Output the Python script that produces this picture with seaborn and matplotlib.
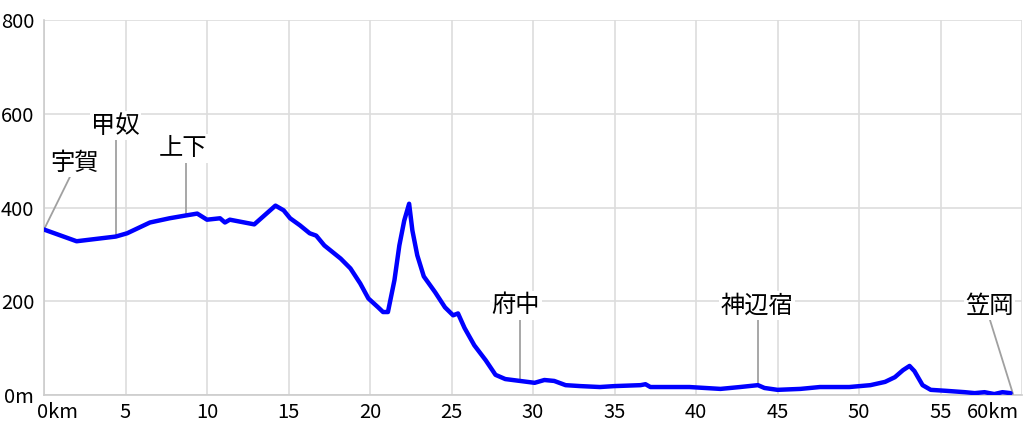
import matplotlib
matplotlib.use("Agg")
import matplotlib.pyplot as plt
import matplotlib.transforms as mtransforms
import pandas as pd
import seaborn as sns

# elevation profile (km, m)
dist_km = [0.0, 2.0, 4.4, 5.1, 6.5, 7.7, 8.7, 9.4, 10.0, 10.8, 11.1, 11.4,
           12.9, 14.2, 14.7, 15.1, 15.7, 16.3, 16.7, 17.2, 18.2, 18.8, 19.4,
           19.9, 20.5, 20.8, 21.1, 21.5, 21.8, 22.1, 22.4, 22.6, 22.9, 23.3,
           24.0, 24.6, 25.1, 25.4, 25.8, 26.4, 27.1, 27.7, 28.3, 29.2, 30.1,
           30.7, 31.3, 32.0, 32.9, 34.1, 35.0, 36.6, 36.9, 37.2, 39.6, 41.5,
           42.7, 43.8, 44.2, 45.0, 46.4, 47.6, 49.4, 50.7, 51.6, 52.2, 52.7,
           53.1, 53.4, 53.9, 54.4, 55.3, 56.5, 57.1, 57.7, 58.3, 58.8, 59.3]
elev_m = [353, 328, 338, 345, 368, 377, 383, 387, 374, 377, 368, 374,
          364, 404, 394, 377, 362, 345, 340, 319, 291, 270, 238,
          206, 187, 177, 177, 245, 319, 372, 408, 351, 298, 253,
          219, 187, 170, 174, 143, 106, 74, 43, 34, 30, 26,
          32, 30, 21, 19, 17, 19, 21, 23, 17, 17, 13,
          17, 21, 15, 11, 13, 17, 17, 21, 28, 38, 53,
          62, 51, 21, 11, 9, 6, 4, 6, 2, 6, 4]

# place names along the route
place_names = ["宇賀", "甲奴", "上下", "府中", "神辺宿", "笠岡"]
place_km = [0.0, 4.4, 8.7, 29.2, 43.8, 59.45]
place_elev = [353, 338, 383, 30, 21, 2]
label_km = [1.85, 4.4, 8.5, 28.95, 43.75, 58.0]
label_y = [496, 574, 526, 191, 191, 191]
leader_top_km = [1.6, 4.4, 8.7, 29.2, 43.8, 58.0]
leader_top_y = [466, 547, 500, 164, 164, 164]

x_ticks = [0, 5, 10, 15, 20, 25, 30, 35, 40, 45, 50, 55, 60]
x_tick_labels = ["0km", "5", "10", "15", "20", "25", "30", "35", "40",
                 "45", "50", "55", "60km"]
y_ticks = [0, 200, 400, 600, 800]
y_tick_labels = ["0m", "200", "400", "600", "800"]

sns.set_theme(style="whitegrid")
plt.rcParams["font.family"] = ["Noto Sans CJK JP", "DejaVu Sans"]

profile = pd.DataFrame({"km": dist_km, "elev": elev_m})

fig = plt.figure(figsize=(10.24, 4.30), dpi=100)
ax = fig.add_axes([44 / 1024, 1 - 395 / 430, 978 / 1024, 375 / 430])

sns.lineplot(data=profile, x="km", y="elev", ax=ax, color="#0000ff",
             linewidth=3.2, zorder=4)

# leader lines and labels
for name, px, py, lx, ly, tx, ty in zip(place_names, place_km, place_elev,
                                        label_km, label_y,
                                        leader_top_km, leader_top_y):
    ax.plot([px, tx], [py, ty], color="#a0a0a0", linewidth=1.3, zorder=3)
    ax.text(lx, ly, name, ha="center", va="center", fontsize=17.5,
            color="#000000", zorder=5,
            bbox=dict(facecolor="white", edgecolor="none", pad=1.0))

ax.set_xlim(0, 60)
ax.set_ylim(0, 800)
ax.set_xticks(x_ticks)
ax.set_xticklabels(x_tick_labels)
ax.set_yticks(y_ticks)
ax.set_yticklabels(y_tick_labels)
ax.set_xlabel("")
ax.set_ylabel("")

ax.grid(True, color="#dddddd", linewidth=1.2)
ax.tick_params(axis="both", length=0, labelsize=14.5, colors="#000000")
ax.tick_params(axis="x", pad=5)
ax.tick_params(axis="y", pad=7)

xlabels = ax.get_xticklabels()
xlabels[0].set_horizontalalignment("left")
xlabels[0].set_transform(xlabels[0].get_transform() +
                         mtransforms.ScaledTranslation(-7 / 100, 0,
                                                       fig.dpi_scale_trans))
xlabels[-1].set_horizontalalignment("right")
xlabels[-1].set_transform(xlabels[-1].get_transform() +
                          mtransforms.ScaledTranslation(-3 / 100, 0,
                                                        fig.dpi_scale_trans))

for side in ["top", "right"]:
    ax.spines[side].set_visible(False)
for side in ["left", "bottom"]:
    ax.spines[side].set_color("#cccccc")
    ax.spines[side].set_linewidth(1.2)

fig.savefig("out.png", dpi=100)
